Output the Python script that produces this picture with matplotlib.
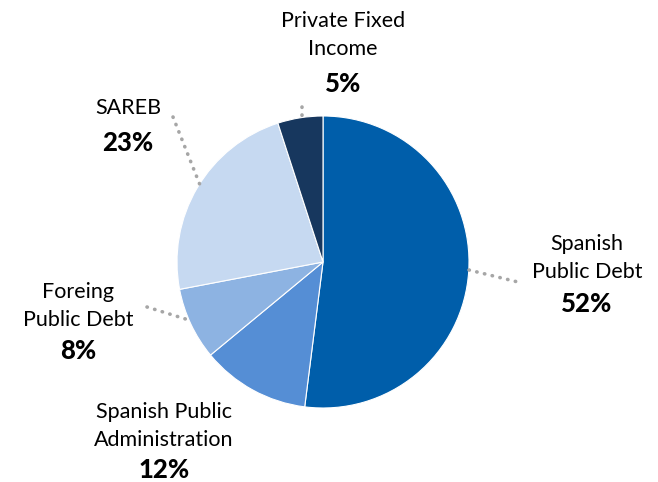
import matplotlib.pyplot as plt

labels = ["Spanish\nPublic Debt", "Spanish Public\nAdministration", "Foreing\nPublic Debt",
          "SAREB", "Private Fixed\nIncome"]
shares = [52, 12, 8, 23, 5]
colors = ["#005EAA", "#558ED5", "#8DB3E2", "#C6D9F1", "#17375E"]

W, H = 658, 482
fig = plt.figure(figsize=(W / 100, H / 100), dpi=100)
ax = fig.add_axes([0, 0, 1, 1])

cx, cy, r = 323, H - 262, 146
ax.pie(shares, colors=colors, startangle=90, counterclock=False,
       center=(cx, cy), radius=r, frame=True,
       wedgeprops=dict(edgecolor="white", linewidth=0.8))
ax.set_xlim(0, W)
ax.set_ylim(0, H)
ax.set_aspect("equal")
ax.axis("off")

# label placement (pixel coords from top), leader line ends
label_pos = [(587, 258), (164, 426), (78, 306), (128, 108), (343, 35)]
pct_pos = [(587, 304), (164, 470), (78, 351), (128, 143), (343, 84)]
leaders = [((469, 270), (522, 283)), None, ((147, 307), (192, 321)),
           ((173, 117), (200, 185)), ((302, 107), (302, 118))]

font = ["Lato", "DejaVu Sans"]
for lab, s, (lx, ly), (px, py), ld in zip(labels, shares, label_pos, pct_pos, leaders):
    ax.text(lx, H - ly, lab, ha="center", va="center", fontsize=15.5,
            family=font, linespacing=1.55, color="black")
    ax.text(px, H - py, f"{s}%", ha="center", va="center", fontsize=18.5,
            family=font, fontweight="black", color="black")
    if ld:
        (x0, y0), (x1, y1) = ld
        ax.plot([x0, x1], [H - y0, H - y1], color="#A6A6A6", linewidth=2.6,
                linestyle=(0, (0.1, 2.1)), dash_capstyle="round", solid_capstyle="round")

fig.savefig("out.png", dpi=100)
